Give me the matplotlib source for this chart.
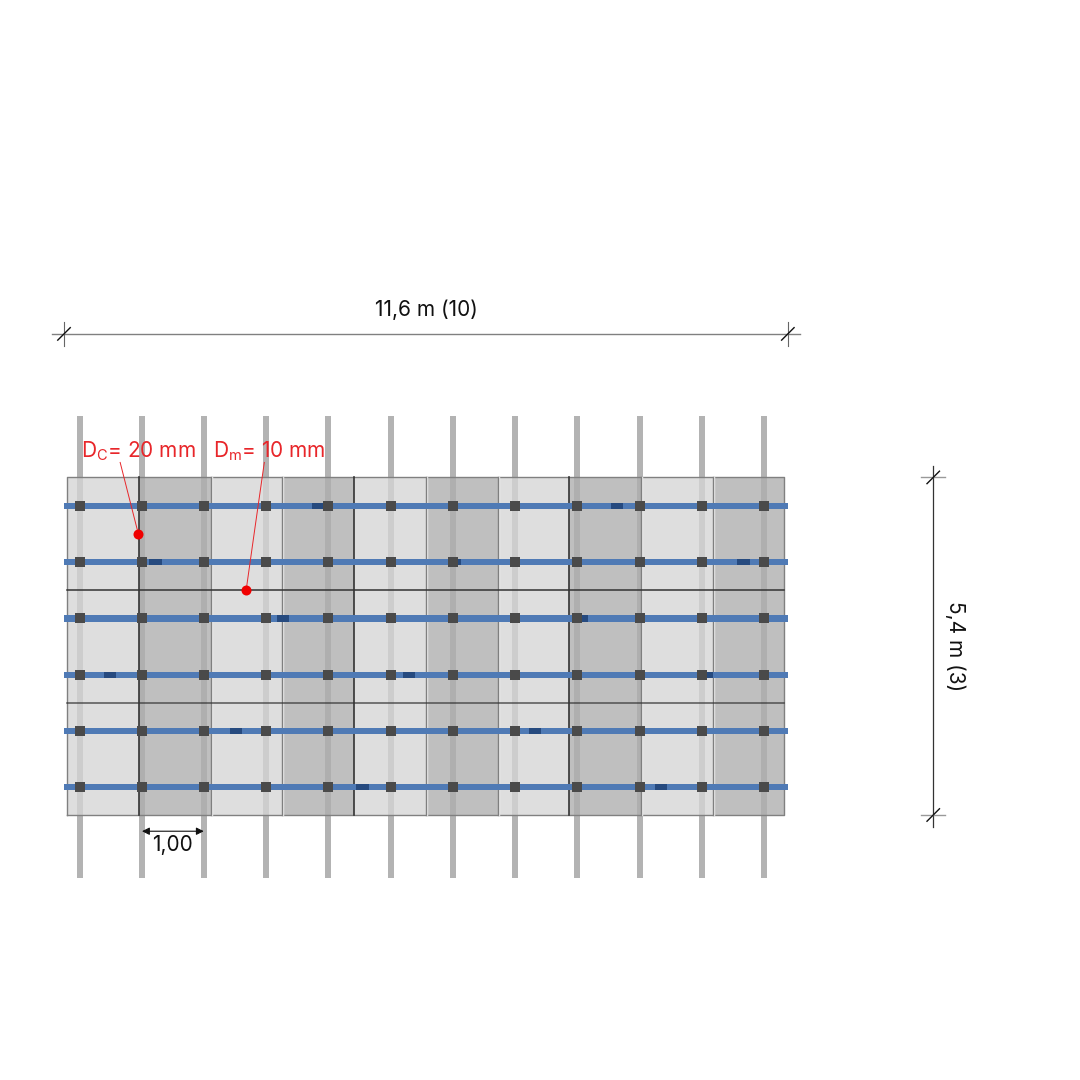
import matplotlib
matplotlib.use("Agg")
import matplotlib.pyplot as plt
from matplotlib.patches import Rectangle

plt.rcParams['font.family'] = ['Inter', 'DejaVu Sans']
plt.rcParams['mathtext.fontset'] = 'custom'
plt.rcParams['mathtext.rm'] = 'Inter'

# everything in metres, origin at lower left of the blue bars
PX = 62.4
post_x = [0.26, 1.25, 2.24, 3.24, 4.23, 5.24, 6.23, 7.23, 8.22, 9.23, 10.22, 11.22]
bar_y = [4.95, 4.05, 3.15, 2.24, 1.35, 0.45]
panel_edges = [0.05, 1.20, 2.35, 3.49, 4.65, 5.80, 6.95, 8.09, 9.24, 10.40, 11.54]
row_edges = [0.0, 1.80, 3.61, 5.41]
# 1 = dark seam, 0 = grey seam
panel_seams = [1, 0, 0, 1, 0, 0, 1, 0, 0]
row_seams = [0.8, 1]
splice_x = [4.07, 8.86, 1.47, 10.89, 6.27, 3.51, 8.30, 0.74, 5.53, 10.30, 2.76, 7.55, 4.78, 9.57]
splice_y = [4.95, 4.95, 4.05, 4.05, 4.05, 3.15, 3.15, 2.24, 2.24, 2.24, 1.35, 1.35, 0.45, 0.45]
red_x = [1.19, 2.92]
red_y = [4.51, 3.61]
leader_x = [[0.90, 1.19], [3.21, 3.06, 2.92]]
leader_y = [[5.65, 4.51], [5.65, 4.60, 3.61]]
red_labels = ['D$_{\\mathrm{C}}$= 20 mm', 'D$_{\\mathrm{m}}$= 10 mm']
red_label_x = [0.27, 2.38]
span_x = [0.0, 11.6]
span_y = [0.0, 5.41]

fig = plt.figure(figsize=(10.8, 10.8), dpi=100)
ax = fig.add_axes([0, 0, 1, 1])
ax.set_xlim(-64 / PX, (1080 - 64) / PX)
ax.set_ylim((815 - 1080) / PX, 815 / PX)
ax.axis('off')

# posts go under the panels and show through
for x in post_x:
    ax.add_patch(Rectangle((x - 0.05, -1.01), 0.10, 7.40, fc='#b3b3b3', ec='none', zorder=1))

for i in range(len(panel_edges) - 1):
    col = '#d5d5d5' if i % 2 == 0 else '#aeaeae'
    ax.add_patch(Rectangle((panel_edges[i], 0), panel_edges[i + 1] - panel_edges[i], row_edges[-1],
                           fc=col, ec='none', alpha=0.78, zorder=2))

ax.plot([panel_edges[0], panel_edges[-1], panel_edges[-1], panel_edges[0], panel_edges[0]],
        [0, 0, row_edges[-1], row_edges[-1], 0], color='#808080', lw=1.0, zorder=3)
for x, s in zip(panel_edges[1:-1], panel_seams):
    if s:
        ax.plot([x, x], [0, row_edges[-1]], color='#333333', lw=1.2, zorder=3)
    else:
        ax.plot([x + 0.02, x + 0.02], [0, row_edges[-1]], color='#f2f2f2', lw=1.0, zorder=3)
        ax.plot([x, x], [0, row_edges[-1]], color='#7f7f7f', lw=1.0, zorder=3)
for y, s in zip(row_edges[1:-1], row_seams):
    ax.plot([panel_edges[0], panel_edges[-1]], [y, y], color='#333333', lw=1.1, alpha=s, zorder=3)

# bars, splices, nodes
for y in bar_y:
    ax.add_patch(Rectangle((span_x[0], y - 0.05), span_x[1], 0.10, fc='#4f7ab5', ec='none', zorder=4))
for x, y in zip(splice_x, splice_y):
    ax.add_patch(Rectangle((x - 0.10, y - 0.05), 0.20, 0.10, fc='#264a7f', ec='none', zorder=5))
for x in post_x:
    for y in bar_y:
        ax.add_patch(Rectangle((x - 0.08, y - 0.08), 0.16, 0.16, fc='#4a4a4a', ec='none', zorder=6))

# red callouts
for lx, ly in zip(leader_x, leader_y):
    ax.plot(lx, ly, color='#e8262a', lw=0.7, zorder=7)
ax.scatter(red_x, red_y, s=52, color='#f00000', zorder=8, linewidths=0)
for x, lab in zip(red_label_x, red_labels):
    ax.text(x, 5.83, lab, color='#e8262a', fontsize=15, ha='left', va='center', zorder=9)

# overall dimensions
top = 7.71
ax.plot([span_x[0] - 0.19, span_x[1] + 0.19], [top, top], color='#808080', lw=1.0)
for x in span_x:
    ax.plot([x, x], [top - 0.19, top + 0.19], color='#666666', lw=0.8)
    ax.plot([x - 0.10, x + 0.10], [top - 0.10, top + 0.10], color='#111111', lw=1.0)
ax.text(5.81, 8.10, '11,6 m (10)', fontsize=15, ha='center', va='center', color='#111111')

right = 13.93
ax.plot([right, right], [span_y[0] - 0.19, span_y[1] + 0.19], color='#333333', lw=0.9)
for y in span_y:
    ax.plot([right - 0.19, right + 0.19], [y, y], color='#999999', lw=1.0)
    ax.plot([right - 0.10, right + 0.10], [y - 0.10, y + 0.10], color='#111111', lw=1.0)
ax.text(14.29, 2.70, '5,4 m (3)', fontsize=15, rotation=-90, ha='center', va='center', color='#111111')

# spacing dimension
ax.annotate('', xy=(post_x[1], -0.26), xytext=(post_x[2], -0.26),
            arrowprops=dict(arrowstyle='<|-|>', color='#111111', lw=0.8, shrinkA=0, shrinkB=0, mutation_scale=11))
ax.text(1.73, -0.48, '1,00', fontsize=15, ha='center', va='center', color='#111111')

fig.savefig('out.png', dpi=100, facecolor='white')
